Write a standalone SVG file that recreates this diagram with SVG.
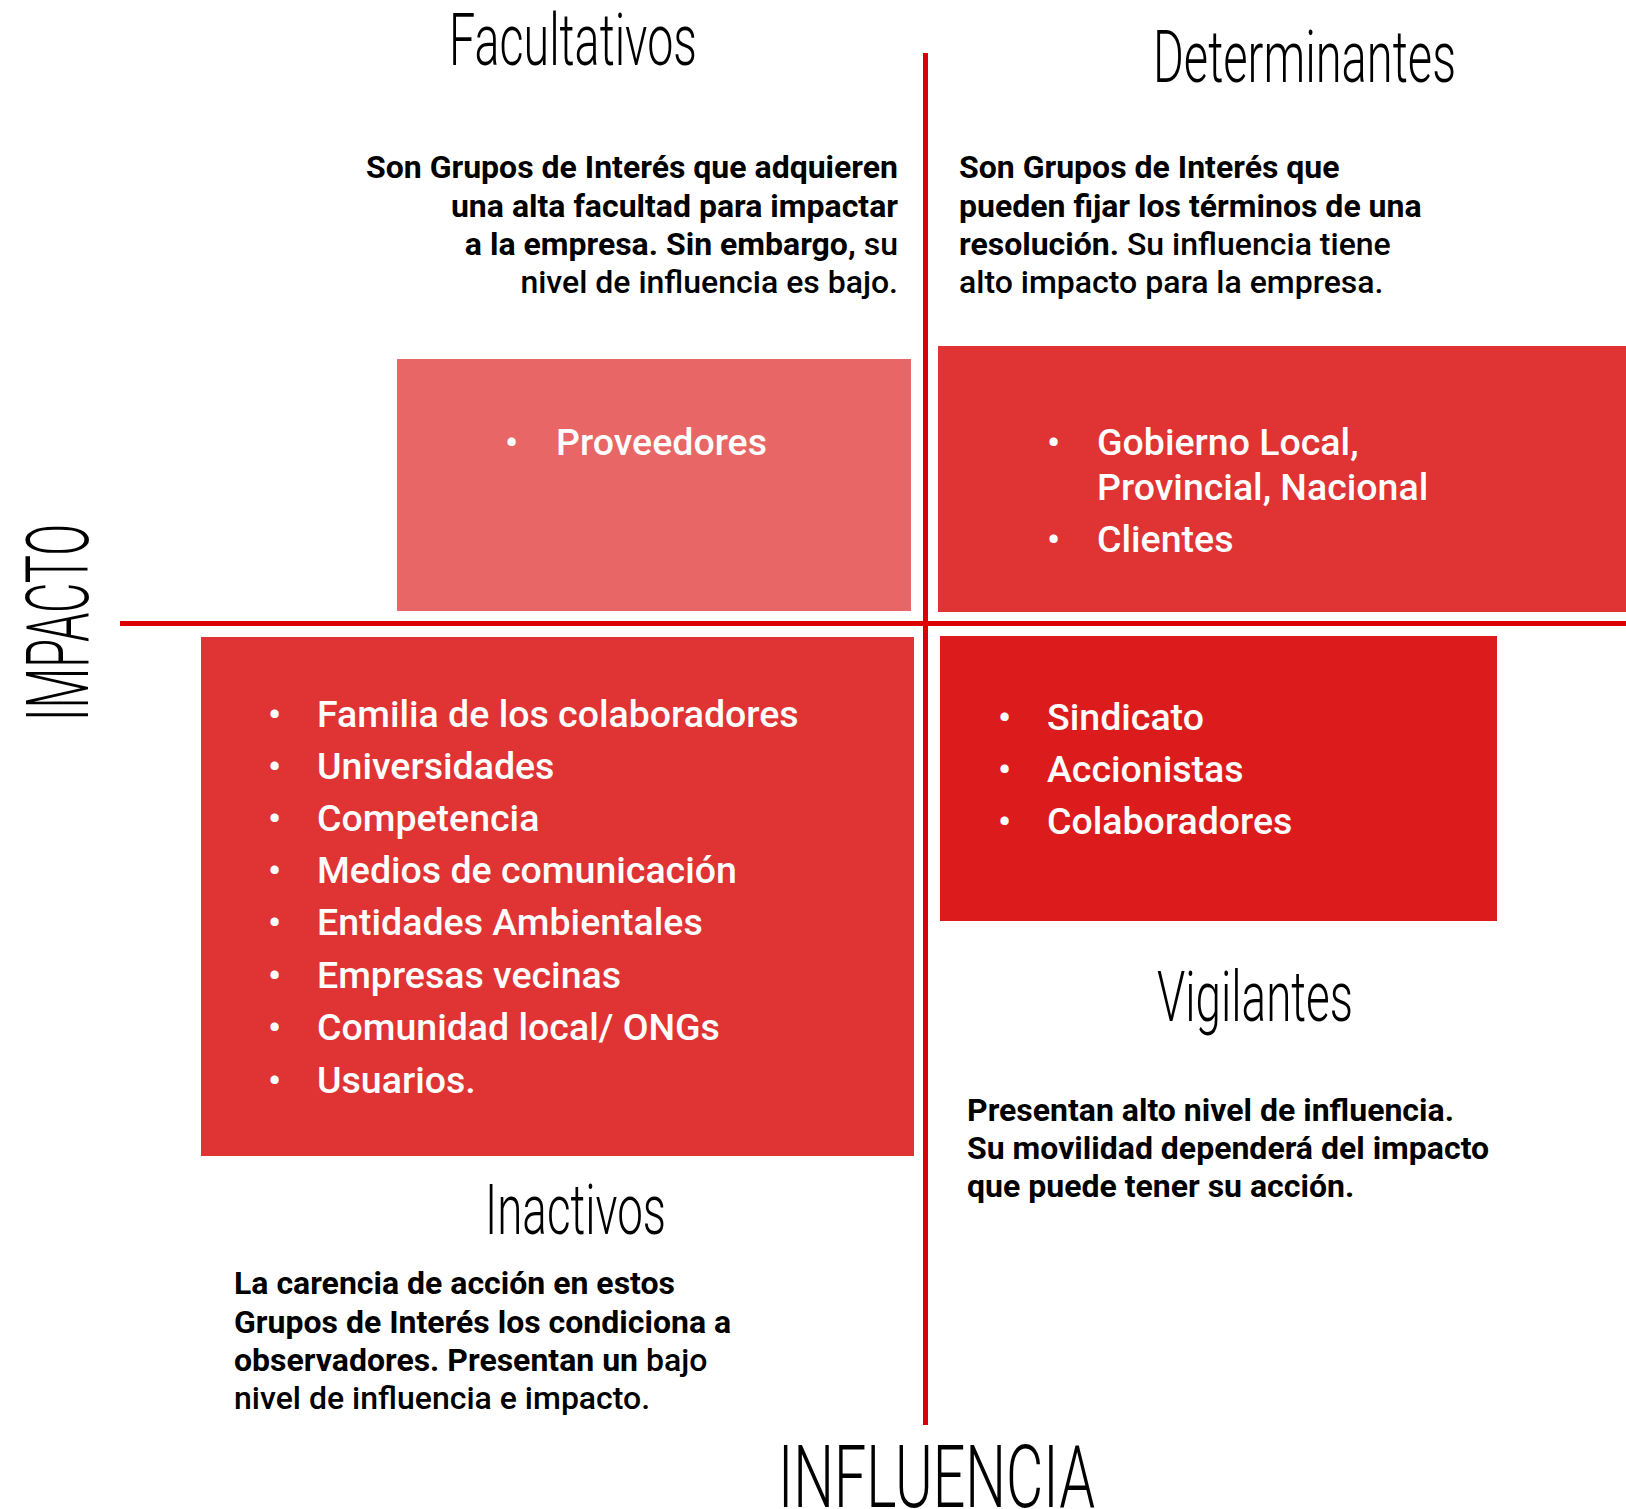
<svg xmlns="http://www.w3.org/2000/svg" width="1626" height="1509" viewBox="0 0 1626 1509">
<style>
.hand{font-family:Roboto,"Liberation Sans",sans-serif;font-weight:300;fill:#000}
.para{font-family:Roboto,"Liberation Sans",sans-serif;font-size:32px;font-weight:500;fill:#000}
.b{font-weight:700}
.item{font-family:Roboto,"Liberation Sans",sans-serif;font-size:37.5px;font-weight:500;fill:#fff}
.axis{stroke:#DD0000;stroke-width:5}
</style>
<rect width="1626" height="1509" fill="#fff"/>
<g id="connectors">
<line class="axis" x1="925.5" y1="53" x2="925.5" y2="1425"/>
<line class="axis" x1="120" y1="623.5" x2="1626" y2="623.5"/>
</g>
<g id="facultativos">
<rect x="397" y="359" width="514" height="252" fill="#E86666"/>
<text class="item" x="505" y="455">•</text>
<text class="item" x="556" y="455">Proveedores</text>
<text class="hand" x="449" y="65" font-size="72" textLength="248" lengthAdjust="spacingAndGlyphs">Facultativos</text>
<text class="para b" x="898" y="178" text-anchor="end">Son Grupos de Interés que adquieren</text>
<text class="para b" x="898" y="217" text-anchor="end">una alta facultad para impactar</text>
<text class="para" x="898" y="255" text-anchor="end"><tspan class="b">a la empresa. Sin embargo,</tspan> su</text>
<text class="para" x="898" y="293" text-anchor="end">nivel de influencia es bajo.</text>
</g>
<g id="determinantes">
<rect x="938" y="346" width="688" height="266" fill="#E03333"/>
<text class="item" x="1047" y="455">•</text>
<text class="item" x="1097" y="455">Gobierno Local,</text>
<text class="item" x="1097" y="500">Provincial, Nacional</text>
<text class="item" x="1047" y="552">•</text>
<text class="item" x="1097" y="552">Clientes</text>
<text class="hand" x="1153" y="82" font-size="72" textLength="303" lengthAdjust="spacingAndGlyphs">Determinantes</text>
<text class="para b" x="959" y="178">Son Grupos de Interés que</text>
<text class="para b" x="959" y="217">pueden fijar los términos de una</text>
<text class="para" x="959" y="255"><tspan class="b">resolución.</tspan> Su influencia tiene</text>
<text class="para" x="959" y="293">alto impacto para la empresa.</text>
</g>
<g id="inactivos">
<rect x="201" y="637" width="713" height="519" fill="#E03333"/>
<text class="item" x="268" y="727">•</text>
<text class="item" x="317" y="727">Familia de los colaboradores</text>
<text class="item" x="268" y="779">•</text>
<text class="item" x="317" y="779">Universidades</text>
<text class="item" x="268" y="831">•</text>
<text class="item" x="317" y="831">Competencia</text>
<text class="item" x="268" y="883">•</text>
<text class="item" x="317" y="883">Medios de comunicación</text>
<text class="item" x="268" y="935">•</text>
<text class="item" x="317" y="935">Entidades Ambientales</text>
<text class="item" x="268" y="988">•</text>
<text class="item" x="317" y="988">Empresas vecinas</text>
<text class="item" x="268" y="1040">•</text>
<text class="item" x="317" y="1040">Comunidad local/ ONGs</text>
<text class="item" x="268" y="1093">•</text>
<text class="item" x="317" y="1093">Usuarios.</text>
<text class="hand" x="485" y="1234" font-size="70" textLength="181" lengthAdjust="spacingAndGlyphs">Inactivos</text>
<text class="para b" x="234" y="1294">La carencia de acción en estos</text>
<text class="para b" x="234" y="1333">Grupos de Interés los condiciona a</text>
<text class="para" x="234" y="1371"><tspan class="b">observadores. Presentan un</tspan> bajo</text>
<text class="para" x="234" y="1409">nivel de influencia e impacto.</text>
</g>
<g id="vigilantes">
<rect x="940" y="636" width="557" height="285" fill="#DC1C1C"/>
<text class="item" x="998" y="730">•</text>
<text class="item" x="1047" y="730">Sindicato</text>
<text class="item" x="998" y="782">•</text>
<text class="item" x="1047" y="782">Accionistas</text>
<text class="item" x="998" y="834">•</text>
<text class="item" x="1047" y="834">Colaboradores</text>
<text class="hand" x="1157" y="1021" font-size="70" textLength="196" lengthAdjust="spacingAndGlyphs">Vigilantes</text>
<text class="para b" x="967" y="1121">Presentan alto nivel de influencia.</text>
<text class="para b" x="967" y="1159">Su movilidad dependerá del impacto</text>
<text class="para b" x="967" y="1197">que puede tener su acción.</text>
</g>
<g id="axis-labels">
<text class="hand" x="778" y="1507" font-size="87" textLength="317" lengthAdjust="spacingAndGlyphs">INFLUENCIA</text>
<text class="hand" transform="translate(88,721) rotate(-90)" x="0" y="0" font-size="87" textLength="197" lengthAdjust="spacingAndGlyphs">IMPACTO</text>
</g>
</svg>
